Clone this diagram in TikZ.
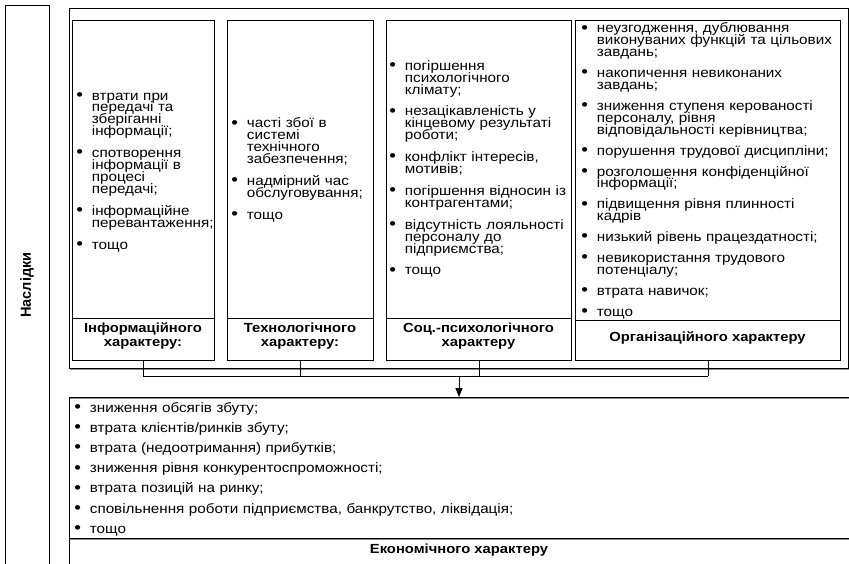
\documentclass[tikz,border=0pt]{standalone}
\usepackage{fontspec}
\usepackage{graphicx}
\setmainfont{Liberation Sans}
\newfontfamily\bodyfont[FakeStretch=1.12]{Liberation Sans}
\usetikzlibrary{arrows.meta}

% bullet lists with hanging indent and tight leading
\newlength\bulind
\setlength\bulind{15.5pt}
\newcommand\bmark{\raisebox{-0.2pt}{\scalebox{1.25}{\textbullet}}}
\newcommand\bitem[1]{\par\noindent\hangindent=\bulind\hangafter=1\hbox to\bulind{\bmark\hfil}#1\par}
\newcommand\igap{\vspace{10pt}}
\newcommand\jgap{\vspace{9pt}}
\newcommand\listfont{\bodyfont\fontsize{13.6}{11.9}\selectfont\lineskiplimit=-20pt\relax}
\newcommand\ecofont{\bodyfont\fontsize{13.6}{20.1}\selectfont\lineskiplimit=-20pt\relax}
\newcommand\headfont{\bodyfont\fontsize{13.2}{14}\selectfont\bfseries\lineskiplimit=-20pt\relax}
\newcommand\sidefont{\fontsize{14.6}{16}\selectfont\bfseries}

\begin{document}
\begin{tikzpicture}[x=1pt,y=-1pt,
  line width=0.8pt,
  panel/.style={draw, anchor=north west, inner sep=0pt},
  itemlist/.style={anchor=west, inner sep=0pt, align=left, font=\listfont},
  heading/.style={inner sep=0pt, align=center, font=\headfont},
  link/.style={draw, line width=0.8pt},
  shade/.style={draw=black!45, line width=0.9pt}]

\useasboundingbox (0,0) rectangle (849,564);

% side label column
\draw (5,564) -- (5,5) -- (49,5) -- (49,564);
\node[inner sep=0pt, font=\sidefont, rotate=90] (side) at (27,285) {Наслідки};

% outer frame around the four groups
\node[panel, minimum width=779pt, minimum height=360pt] (frame) at (69,8) {};
\draw[shade] (70,369.5) -- (849.5,369.5) -- (849.5,9);

% four groups of consequences
\node[panel, minimum width=142pt, minimum height=340pt] (b1) at (72,20) {};
\node[panel, minimum width=146pt, minimum height=340pt] (b2) at (227,20) {};
\node[panel, minimum width=185pt, minimum height=340pt] (b3) at (386,20) {};
\node[panel, minimum width=265pt, minimum height=340pt] (b4) at (575,20) {};
\draw (72,318) -- (214,318);
\draw (227,318) -- (373,318);
\draw (386,318) -- (571,318);
\draw (575,320) -- (840,320);

\node[itemlist, text width=140pt] (l1) at (76,170) {%
\bitem{втрати при\newline передачі та\newline зберіганні\newline інформації;}\igap
\bitem{спотворення\newline інформації в\newline процесі\newline передачі;}\igap
\bitem{інформаційне\newline перевантаження;}\igap
\bitem{тощо}};

\node[itemlist, text width=150pt] (l2) at (231,169) {%
\bitem{часті збої в\newline системі\newline технічного\newline забезпечення;}\igap
\bitem{надмірний час\newline обслуговування;}\igap
\bitem{тощо}};

\node[itemlist, text width=190pt] (l3) at (389,168) {%
\bitem{погіршення\newline психологічного\newline клімату;}\igap
\bitem{незацікавленість у\newline кінцевому результаті\newline роботи;}\igap
\bitem{конфлікт інтересів,\newline мотивів;}\igap
\bitem{погіршення відносин із\newline контрагентами;}\igap
\bitem{відсутність лояльності\newline персоналу до\newline підприємства;}\igap
\bitem{тощо}};

\node[itemlist, text width=270pt] (l4) at (581,170) {%
\bitem{неузгодження, дублювання\newline виконуваних функцій та цільових\newline завдань;}\jgap
\bitem{накопичення невиконаних\newline завдань;}\jgap
\bitem{зниження ступеня керованості\newline персоналу, рівня\newline відповідальності керівництва;}\jgap
\bitem{порушення трудової дисципліни;}\jgap
\bitem{розголошення конфіденційної\newline інформації;}\jgap
\bitem{підвищення рівня плинності\newline кадрів}\jgap
\bitem{низький рівень працездатності;}\jgap
\bitem{невикористання трудового\newline потенціалу;}\jgap
\bitem{втрата навичок;}\jgap
\bitem{тощо}};

\node[heading] (h1) at (143,336) {Інформаційного\\характеру:};
\node[heading] (h2) at (300,336) {Технологічного\\характеру:};
\node[heading] (h3) at (478.5,336) {Соц.-психологічного\\характеру};
\node[heading] (h4) at (707.5,338) {Організаційного характеру};

% collector lines and arrow to the economic group
\coordinate (hub) at (459,376);
\coordinate (ecotop) at (459,397);
\draw[link] (b1.south) -- (b1.south |- hub);
\draw[link] (b2.south) -- (b2.south |- hub);
\draw[link] (b3.south) -- (b3.south |- hub);
\draw[link] (b4.south) -- (b4.south |- hub);
\draw[link] (b1.south |- hub) -- (b4.south |- hub);
\draw[link, -{Triangle[width=7pt,length=9pt]}] (hub) -- (ecotop);

% economic group
\draw (849,397) -- (69,397) -- (69,564);
\draw[shade] (70,398.5) -- (849,398.5);
\draw (69,538) -- (849,538);
\draw[shade] (70,539.5) -- (849,539.5);
\node[anchor=north west, inner sep=0pt, align=left, text width=700pt, font=\ecofont] (l5) at (74,392) {%
\bitem{зниження обсягів збуту;}
\bitem{втрата клієнтів/ринків збуту;}
\bitem{втрата (недоотримання) прибутків;}
\bitem{зниження рівня конкурентоспроможності;}
\bitem{втрата позицій на ринку;}
\bitem{сповільнення роботи підприємства, банкрутство, ліквідація;}
\bitem{тощо}};
\node[heading] (h5) at (459,550) {Економічного характеру};
\end{tikzpicture}
\end{document}
